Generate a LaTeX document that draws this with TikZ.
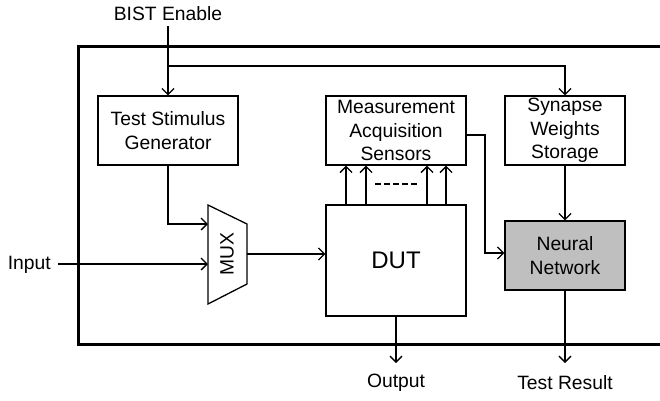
\documentclass[tikz,border=0pt]{standalone}
\usepackage{fontspec}
\setmainfont{Liberation Sans}
\usetikzlibrary{arrows.meta}
\begin{document}
\begin{tikzpicture}[x=1pt,y=-1pt,
  every node/.style={font=\fontsize{19.3}{23.5}\selectfont, inner sep=0pt},
  blk/.style={draw, line width=1.3pt, align=center},
  wire/.style={line width=1.3pt},
  arr/.style={wire, -{Straight Barb[length=6pt,width=12pt,line width=1.3pt]}}]
\useasboundingbox (0,0) rectangle (660,400);
% frame
\draw[line width=3pt] (662,46) -- (78,46) -- (78,344) -- (662,344);
% blocks
\node[blk, minimum width=140pt, minimum height=69pt] (tsg) at (168,130.5) {Test Stimulus\\Generator};
\node[blk, minimum width=140pt, minimum height=69pt] (mas) at (396,130.5) {Measurement\\Acquisition\\Sensors};
\node[blk, minimum width=120pt, minimum height=69pt] (sws) at (565,130.5) {Synapse\\Weights\\Storage};
\node[blk, fill=black!25, minimum width=120pt, minimum height=69pt] (nn) at (565,255.5) {Neural\\Network};
\node[blk, minimum width=140pt, minimum height=111pt, font=\fontsize{24}{28}\selectfont] (dut) at (396,260.5) {DUT};
% mux
\draw[wire, line join=miter] (208,205) -- (247,224) -- (247,284) -- (208,304) -- cycle;
\node[rotate=90] (mux) at (227,254) {MUX};
\coordinate (muxin1) at (208,224);
\coordinate (muxin2) at (208,264);
\coordinate (muxout) at (247,254);
% labels
\node (bist) at (168,14) {BIST Enable};
\node[anchor=east] (input) at (51,265) {Input};
\node (out) at (396,383) {Output};
\node (res) at (565,383) {Test Result};
\coordinate (bistb) at (168,26);
\coordinate (j1) at (168,66);
\coordinate (inb) at (58,264);
\coordinate (outend) at (396,363);
\coordinate (resend) at (565,363);
\coordinate (mj) at (485,135);
\coordinate (mk) at (485,253);
% connectors
\draw[arr] (bistb) -- (tsg.north);
\draw[arr] (j1) -| (sws.north);
\draw[arr] (tsg.south) |- (muxin1);
\draw[arr] (inb) -- (muxin2);
\draw[arr] (muxout) -- (muxout -| dut.west);
\draw[arr] ([yshift=-4.5pt]mas.east) -- (mj) -- (mk) -- (mk -| nn.west);
\draw[arr] (sws.south) -- (nn.north);
\draw[arr] (nn.south) -- (resend);
\draw[arr] (dut.south) -- (outend);
\foreach \dx in {-50,-30,31,50}
  \draw[arr] ([xshift=\dx pt]dut.north) -- ([xshift=\dx pt]mas.south);
\draw[line width=1.8pt, dash pattern=on 6pt off 3pt] (375,184) -- (419,184);
\end{tikzpicture}
\end{document}
